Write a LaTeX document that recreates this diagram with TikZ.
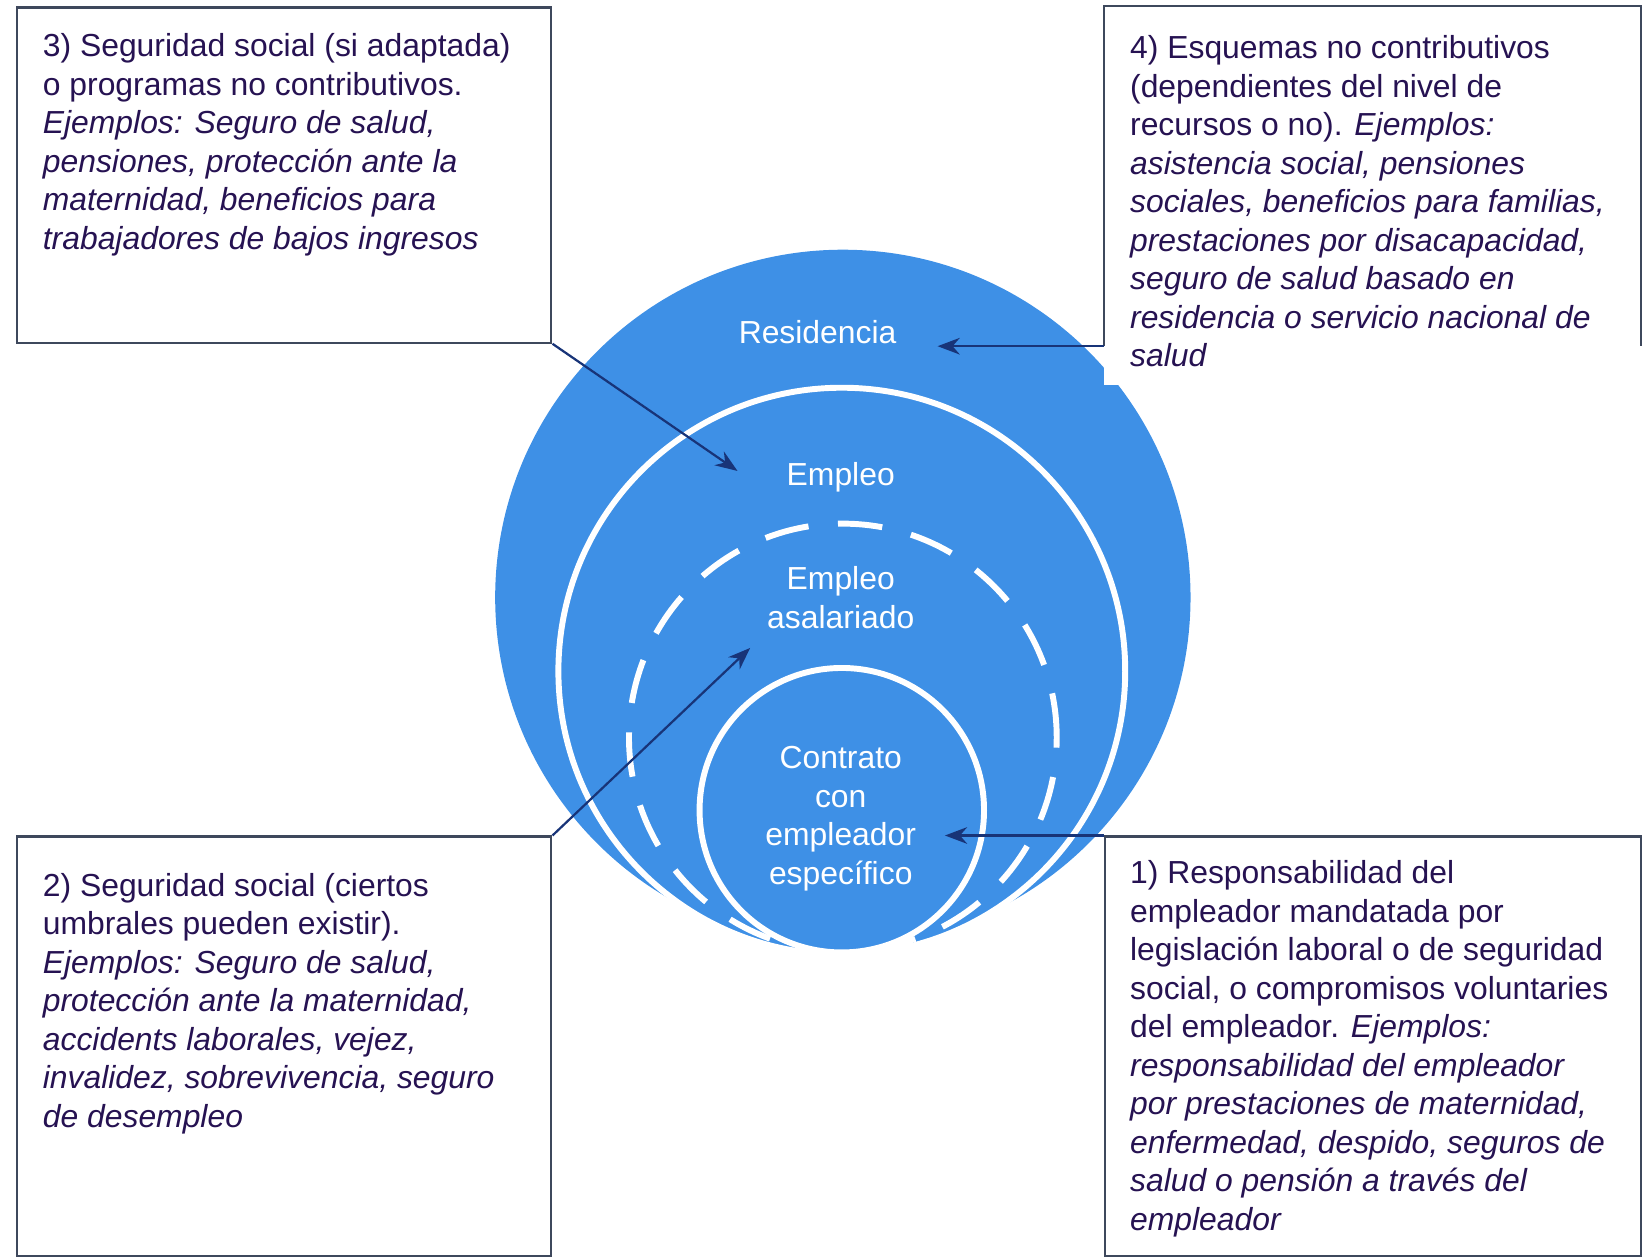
\documentclass[tikz,border=0pt]{standalone}
\usepackage{fontspec}
\setmainfont{Liberation Sans}
\usetikzlibrary{arrows.meta}
\definecolor{circblue}{RGB}{62,144,230}
\definecolor{boxtext}{RGB}{38,18,82}
\definecolor{boxline}{RGB}{62,72,92}
\definecolor{arrowblue}{RGB}{24,52,120}
\tikzset{
  infobox/.style={draw=boxline, line width=0.6pt, fill=white, anchor=north west, inner sep=0pt},
  infotext/.style={anchor=north west, inner sep=0pt, align=left, text=boxtext, font=\fontsize{8.6}{10.4}\selectfont},
  ringlabel/.style={align=center, inner sep=0pt, text=white, font=\fontsize{8.6}{10.4}\selectfont},
  ring/.style={fill=circblue, draw=white, line width=1.6pt},
  pointer/.style={draw=arrowblue, line width=0.6pt, -{Stealth[length=6pt,width=4.5pt]}},
}
\begin{document}
\begin{tikzpicture}[x=0.01cm, y=0.01cm]
  \useasboundingbox (0,0) rectangle (1568,-1193);
  % nested circles
  \fill[circblue] (800,-567) circle[radius=330];
  \draw[ring] (799,-637) circle[radius=269];
  \draw[ring, dash pattern=on 12pt off 8pt] (800,-700) circle[radius=203];
  \draw[ring] (799,-769) circle[radius=135];
  \node[ringlabel] (res) at (776,-315) {Residencia};
  \node[ringlabel] (emp) at (798,-453) {Empleo};
  \node[ringlabel] (asal) at (798,-567) {Empleo\\asalariado};
  \node[ringlabel] (contr) at (798,-777) {Contrato\\con\\empleador\\específico};
  % boxes
  \node[infobox, minimum width=5.07cm, minimum height=3.18cm] (b3) at (15,-6) {};
  \node[infotext] (t3) at (40,-31) {3) Seguridad social (si adaptada)\\
    o programas no contributivos.\\
    \textit{Ejemplos: Seguro de salud,}\\
    \textit{pensiones, protección ante la}\\
    \textit{maternidad, beneficios para}\\
    \textit{trabajadores de bajos ingresos}};
  \node[fill=white, inner sep=0pt, anchor=north west, minimum width=5.08cm, minimum height=3.21cm] (b4) at (1048,-6) {};
  \fill[white] (b4.south west) rectangle (1556,-365);
  \draw[boxline, line width=0.6pt] (b4.south west) -- (b4.north west) -- (b4.north east) -- (b4.south east);
  \node[infotext] (t4) at (1072,-33) {4) Esquemas no contributivos\\
    (dependientes del nivel de\\
    recursos o no). \textit{Ejemplos:}\\
    \textit{asistencia social, pensiones}\\
    \textit{sociales, beneficios para familias,}\\
    \textit{prestaciones por disacapacidad,}\\
    \textit{seguro de salud basado en}\\
    \textit{residencia o servicio nacional de}\\
    \textit{salud}};
  \node[infobox, minimum width=5.07cm, minimum height=3.98cm] (b2) at (15,-793) {};
  \node[infotext] (t2) at (40,-828) {2) Seguridad social (ciertos\\
    umbrales pueden existir).\\
    \textit{Ejemplos: Seguro de salud,}\\
    \textit{protección ante la maternidad,}\\
    \textit{accidents laborales, vejez,}\\
    \textit{invalidez, sobrevivencia, seguro}\\
    \textit{de desempleo}};
  \node[infobox, minimum width=5.08cm, minimum height=3.98cm] (b1) at (1048,-793) {};
  \node[infotext] (t1) at (1072,-816) {1) Responsabilidad del\\
    empleador mandatada por\\
    legislación laboral o de seguridad\\
    social, o compromisos voluntaries\\
    del empleador. \textit{Ejemplos:}\\
    \textit{responsabilidad del empleador}\\
    \textit{por prestaciones de maternidad,}\\
    \textit{enfermedad, despido, seguros de}\\
    \textit{salud o pensión a través del}\\
    \textit{empleador}};
  % pointers
  \coordinate (res-in) at ([xshift=-1.58cm]b4.south west);
  \coordinate (emp-in) at (700,-447);
  \coordinate (asal-in) at (712,-615);
  \coordinate (contr-in) at ([xshift=-1.51cm]b1.north west);
  \draw[pointer] (b3.south east) -- (emp-in);
  \draw[pointer] (b4.south west) -- (res-in);
  \draw[pointer] (b2.north east) -- (asal-in);
  \draw[pointer] (b1.north west) -- (contr-in);
\end{tikzpicture}
\end{document}
